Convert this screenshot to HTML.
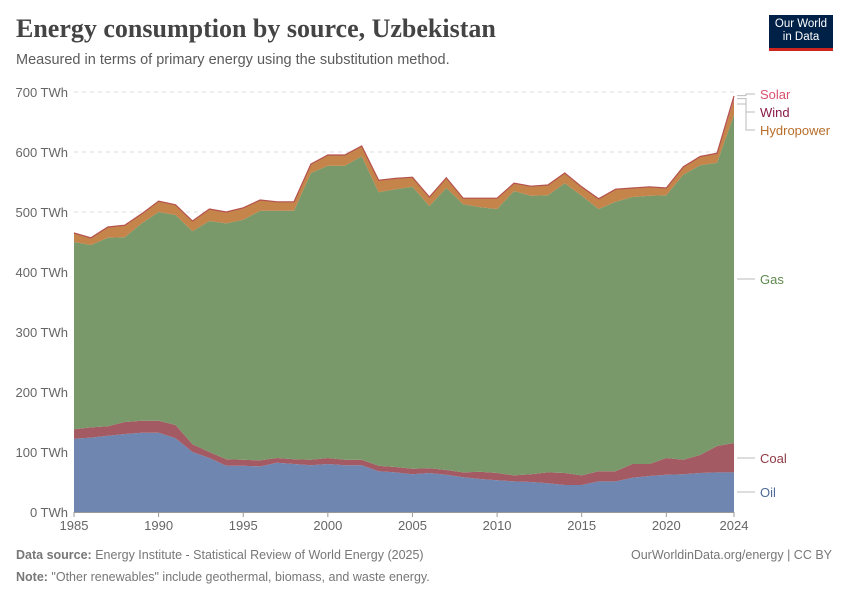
<!DOCTYPE html>
<html><head><meta charset="utf-8"><style>
body{margin:0;background:#fff;font-family:"Liberation Sans",sans-serif;}
#wrap{position:relative;width:850px;height:600px;overflow:hidden;}
.t{position:absolute;white-space:nowrap;}
</style></head><body>
<div id="wrap">
<div class="t" style="left:16px;top:14px;font-family:'Liberation Serif',serif;font-size:26px;color:#444;font-weight:bold;">Energy consumption by source, Uzbekistan</div>
<div class="t" style="left:16px;top:52px;font-size:14.5px;color:#5b5b5b;">Measured in terms of primary energy using the substitution method.</div>
<div style="position:absolute;left:769px;top:15px;width:64px;height:36px;background:#002147;border-bottom:3px solid #ce261e;color:#fff;font-size:11.5px;line-height:13px;text-align:center;padding-top:3px;box-sizing:border-box;">Our World<br>in Data</div>
<svg id="chart" width="850" height="600" style="position:absolute;left:0;top:0"></svg>
<div class="t" style="left:16px;top:548px;font-size:12.5px;color:#777;"><b>Data source:</b> Energy Institute - Statistical Review of World Energy (2025)</div>
<div class="t" style="right:18px;top:548px;font-size:12.5px;color:#777;">OurWorldinData.org/energy | CC BY</div>
<div class="t" style="left:16px;top:570px;font-size:12.5px;color:#777;"><b>Note:</b> "Other renewables" include geothermal, biomass, and waste energy.</div>
</div>
<script>
const years=[1985,1986,1987,1988,1989,1990,1991,1992,1993,1994,1995,1996,1997,1998,1999,2000,2001,2002,2003,2004,2005,2006,2007,2008,2009,2010,2011,2012,2013,2014,2015,2016,2017,2018,2019,2020,2021,2022,2023,2024];
const oil=[122,124,127,130,132,132,123,100,90,77,77,76,82,80,78,80,78,78,68,66,63,65,62,58,55,53,51,50,48,45,45,51,51,57,60,62,63,65,66,66];
const coal=[16,17,16,20,20,20,22,13,10,11,10,10,8,8,9,10,9,9,9,9,9,8,8,8,12,12,10,13,18,20,16,17,17,23,20,28,24,30,44,49];
const gas=[312,304,314,308,329,348,350,355,385,393,400,416,412,414,478,487,490,506,456,463,470,437,470,447,441,440,474,464,462,483,466,437,449,445,447,438,475,483,472,547];
const hydro=[15,12,18,20,16,18,17,17,20,19,20,18,15,15,15,18,18,17,20,18,16,15,17,10,15,18,13,16,17,17,15,17,21,15,15,12,13,14,15,25];
const wind=[0,0,0,0,0,0,0,0,0,0,0,0,0,0,0,0,0,0,0,0,0,0,0,0,0,0,0,0,0,0,0,0,0,0,0,0,0,0,0,1.5];
const solar=[0,0,0,0,0,0,0,0,0,0,0,0,0,0,0,0,0,0,0,0,0,0,0,0,0,0,0,0,0,0,0,0,0,0,0,0,0.3,0.5,1,5];
const yTicks=[0,100,200,300,400,500,600,700];
const xTicks=[1985,1990,1995,2000,2005,2010,2015,2020,2024];
const series=[["oil",oil,"#6f87b0"],["coal",coal,"#a35a63"],["gas",gas,"#7a996a"],["hydro",hydro,"#c4844a"],["wind",wind,"#9b2a5a"],["solar",solar,"#d9506e"]];
const X=y=>74+(y-1985)*(734-74)/(2024-1985);
const Y=v=>512-v*0.6;
const NS="http://www.w3.org/2000/svg";
const svg=document.getElementById('chart');
function mk(t,a){const e=document.createElementNS(NS,t);for(const k in a)e.setAttribute(k,a[k]);svg.appendChild(e);return e;}
yTicks.forEach(v=>{
  if(v>0){const l=mk('line',{x1:74,x2:734,y1:Y(v),y2:Y(v),stroke:'#ddd','stroke-dasharray':'4,4'});
  
  }
  const t=mk('text',{x:68,y:Y(v)+5,'text-anchor':'end','font-size':13,fill:'#666','font-family':'Liberation Sans'});
  t.textContent=v+' TWh';
  
  
});
let base=years.map(()=>0);
series.forEach(([name,vals,col])=>{
  const top=base.map((b,i)=>b+vals[i]);
  let d='M'+years.map((y,i)=>X(y)+','+Y(top[i])).join('L');
  d+='L'+years.map((y,i)=>X(y)+','+Y(base[i])).reverse().join('L')+'Z';
  const p=mk('path',{d:d,fill:col});
  
  
  base=top;
});
const tl=mk('polyline',{points:years.map((y,i)=>X(y)+','+Y(base[i])).join(' '),fill:'none',stroke:'#b5524f','stroke-width':1.2});


const ax=mk('line',{x1:74,x2:734,y1:512.5,y2:512.5,stroke:'#999'});


xTicks.forEach(y=>{
  const l=mk('line',{x1:X(y),x2:X(y),y1:512,y2:517,stroke:'#999'});
  
  
  const t=mk('text',{x:X(y),y:530,'text-anchor':'middle','font-size':13,fill:'#666','font-family':'Liberation Sans'});
  t.textContent=y;
  
  
});
const labels=[["Solar",94,"#d9506e",Y(694)],["Wind",112,"#8a1a4a",Y(689)],["Hydropower",130,"#b86e2a",Y(680)],["Gas",279,"#5f8a4f",279],["Coal",458,"#8e3b44",458],["Oil",492,"#4f6a9a",492]];
labels.forEach(([n,y,c,sy])=>{
  const p=mk('polyline',{points:`737,${sy} 746,${sy} 746,${y} 755,${y}`,fill:'none',stroke:'#bbb'});
  
  
  const t=mk('text',{x:760,y:y+5,'font-size':13,fill:c,'font-family':'Liberation Sans'});
  t.textContent=n;
  
  
});
</script>
</body></html>
